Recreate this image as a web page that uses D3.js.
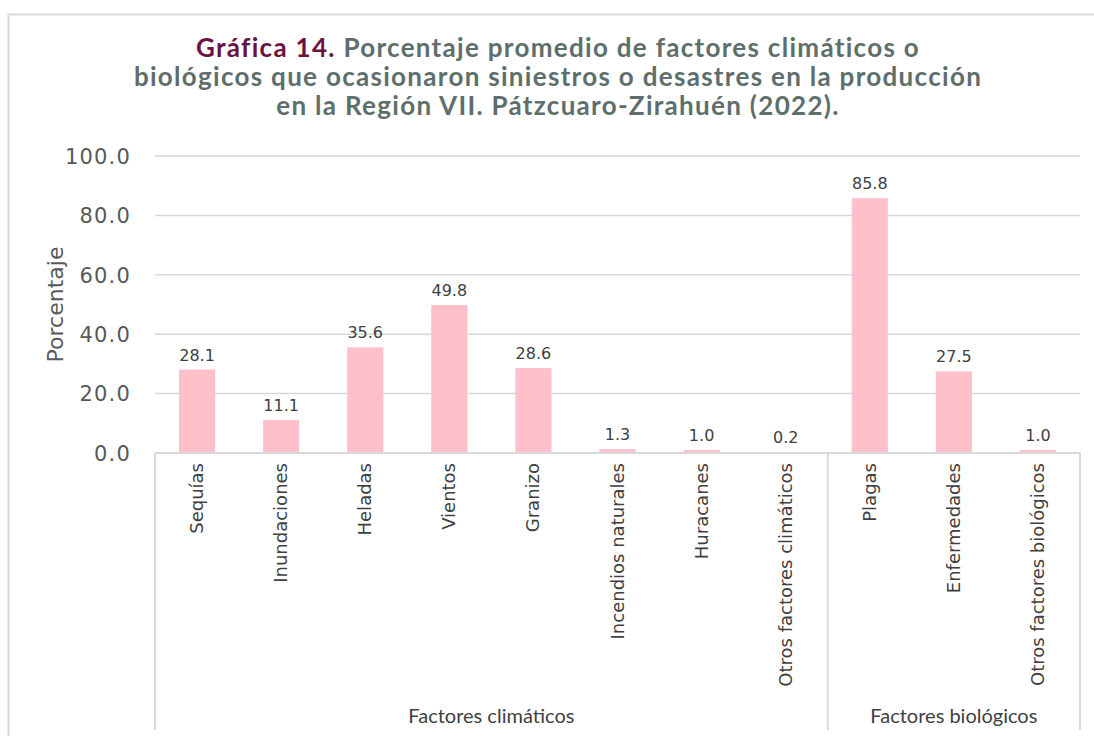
<!DOCTYPE html>
<html>
<head>
<meta charset="utf-8">
<script src="https://cdn.jsdelivr.net/npm/d3@7"></script>
<style>
  body { margin: 0; background: #fff; }
  svg { display: block; }
</style>
</head>
<body>
<div id="chart"></div>
<script>
// Data
var categories = ["Sequías", "Inundaciones", "Heladas", "Vientos", "Granizo",
                  "Incendios naturales", "Huracanes", "Otros factores climáticos",
                  "Plagas", "Enfermedades", "Otros factores biológicos"];
var values = [28.1, 11.1, 35.6, 49.8, 28.6, 1.3, 1.0, 0.2, 85.8, 27.5, 1.0];
var groups = ["Factores climáticos", "Factores biológicos"];
var groupSizes = [8, 3];
var yTicks = [0, 20, 40, 60, 80, 100];

var width = 1094, height = 736;
var margin = {left: 155, right: 14, top: 156, bottom: 283};
var tickFont = "'DejaVu Sans', sans-serif";
var titleFont = "Lato, 'Noto Sans', sans-serif";

var svg = d3.select("#chart").append("svg")
  .attr("width", width)
  .attr("height", height);

// outer frame (bottom and right run off the picture)
svg.append("path")
  .attr("d", "M8.5," + height + "V14.5H" + width)
  .attr("fill", "none")
  .attr("stroke", "#d9d9d9")
  .attr("stroke-width", 2);

// title
var title = svg.append("text")
  .attr("text-anchor", "middle")
  .attr("font-family", titleFont)
  .attr("font-weight", 700)
  .attr("font-size", 26)
  .attr("letter-spacing", 1.3)
  .attr("fill", "#5e6e6b");
var titleLines = [
  [["Gráfica 14. ", "#6b1244"], ["Porcentaje promedio de factores climáticos o", null]],
  [["biológicos que ocasionaron siniestros o desastres en la producción", null]],
  [["en la Región VII. Pátzcuaro-Zirahuén (2022).", null]]
];
titleLines.forEach(function(line, i) {
  line.forEach(function(part, j) {
    var s = title.append("tspan").text(part[0]);
    if (j === 0) s.attr("x", 558).attr("y", 57 + i * 29);
    if (part[1]) s.attr("fill", part[1]);
  });
});

var x0 = margin.left, x1 = width - margin.right;
var y0 = height - margin.bottom, y1 = margin.top;

var x = d3.scaleBand()
  .domain(categories)
  .range([x0, x1])
  .paddingInner(0.57)
  .paddingOuter(0.285);

var y = d3.scaleLinear()
  .domain([0, 100])
  .range([y0, y1]);

// gridlines
svg.append("g")
  .selectAll("line")
  .data(yTicks.slice(1))
  .enter().append("line")
    .attr("x1", x0).attr("x2", x1)
    .attr("y1", function(d) { return y(d); })
    .attr("y2", function(d) { return y(d); })
    .attr("stroke", "#d9d9d9")
    .attr("stroke-width", 1.5);

// y axis labels
var yAxis = svg.append("g")
  .attr("transform", "translate(" + (x0 - 21) + ",0)")
  .call(d3.axisLeft(y).tickValues(yTicks).tickFormat(d3.format(".1f")).tickSize(0));
yAxis.select(".domain").remove();
yAxis.selectAll("text")
  .attr("font-family", tickFont)
  .attr("font-size", 21)
  .attr("letter-spacing", 1.2)
  .attr("fill", "#595959")
  .attr("dy", "0.35em");

svg.append("text")
  .attr("transform", "translate(63," + ((y0 + y1) / 2) + ") rotate(-90)")
  .attr("text-anchor", "middle")
  .attr("font-family", tickFont)
  .attr("font-size", 22)
  .attr("fill", "#595959")
  .text("Porcentaje");

// bars
svg.append("g")
  .selectAll("rect")
  .data(values)
  .enter().append("rect")
    .attr("x", function(d, i) { return x(categories[i]); })
    .attr("width", x.bandwidth())
    .attr("y", function(d) { return y(d); })
    .attr("height", function(d) { return y0 - y(d); })
    .attr("fill", "#ffc0cb");

// data labels
svg.append("g")
  .selectAll("text")
  .data(values)
  .enter().append("text")
    .attr("x", function(d, i) { return x(categories[i]) + x.bandwidth() / 2; })
    .attr("y", function(d) { return y(d) - 9; })
    .attr("text-anchor", "middle")
    .attr("font-family", tickFont)
    .attr("font-size", 16)
    .attr("fill", "#404040")
    .text(function(d) { return d3.format(".1f")(d); });

// x axis line and group separators
var bottom = 730;
var axis = svg.append("g")
  .attr("stroke", "#d9d9d9")
  .attr("stroke-width", 2);
axis.append("line")
  .attr("x1", x0).attr("x2", x1)
  .attr("y1", y0).attr("y2", y0);

var step = x.step();
var bounds = [0];
groupSizes.forEach(function(n, i) { bounds.push(bounds[i] + n); });
axis.selectAll("line.sep")
  .data(bounds)
  .enter().append("line")
    .attr("class", "sep")
    .attr("x1", function(b) { return x0 + b * step; })
    .attr("x2", function(b) { return x0 + b * step; })
    .attr("y1", y0).attr("y2", bottom);

// category labels
svg.append("g")
  .selectAll("text")
  .data(categories)
  .enter().append("text")
    .attr("transform", function(d) {
      return "translate(" + (x(d) + x.bandwidth() / 2 + 6) + "," + (y0 + 10) + ") rotate(-90)";
    })
    .attr("text-anchor", "end")
    .attr("font-family", tickFont)
    .attr("font-size", 18)
    .attr("fill", "#404040")
    .text(function(d) { return d; });

// group labels
svg.append("g")
  .selectAll("text")
  .data(groups)
  .enter().append("text")
    .attr("x", function(d, i) { return x0 + (bounds[i] + bounds[i + 1]) / 2 * step; })
    .attr("y", 723)
    .attr("text-anchor", "middle")
    .attr("font-family", titleFont)
    .attr("font-size", 20)
    .attr("fill", "#404040")
    .text(function(d) { return d; });
</script>
</body>
</html>
